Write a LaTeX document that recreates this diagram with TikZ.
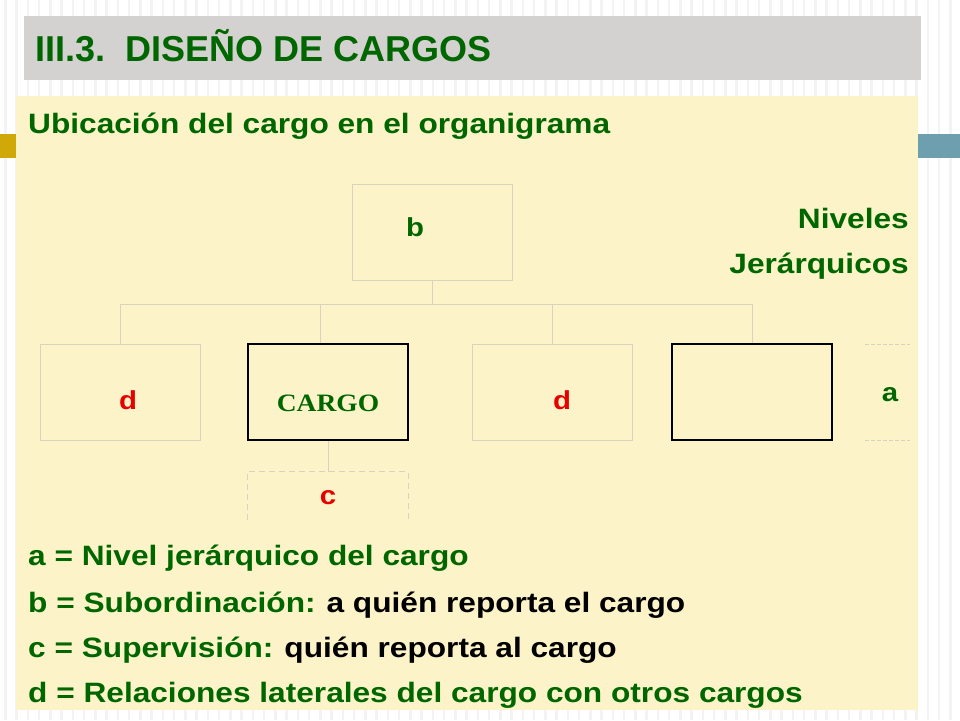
\documentclass[tikz,border=0pt]{standalone}
\usepackage{fontspec}
\setmainfont{Liberation Sans}
\newfontfamily\bodyf[FakeStretch=1.13]{Liberation Sans}
\newfontfamily\titlef{Liberation Sans}
\newfontfamily\serifb[FakeStretch=1.1]{Liberation Serif}
\definecolor{dgreen}{RGB}{0,102,0}
\definecolor{lred}{RGB}{230,0,0}
\definecolor{panel}{RGB}{252,243,200}
\definecolor{tbar}{RGB}{212,210,208}
\definecolor{gold}{RGB}{208,168,8}
\definecolor{steel}{RGB}{110,159,175}
\definecolor{stripe}{RGB}{243,243,243}
\definecolor{lbord}{RGB}{217,210,192}
\tikzset{
  x=1pt, y=-1pt,
  lightbox/.style={draw=lbord, line width=1pt, minimum width=160pt, minimum height=96pt, inner sep=0pt},
  darkbox/.style={draw=black, line width=1.2pt, minimum width=160pt, minimum height=96pt, inner sep=0pt},
  conn/.style={draw=lbord, line width=1pt},
  dashconn/.style={draw=lbord, line width=1pt, dash pattern=on 6pt off 4pt},
  bodytxt/.style={font=\bodyf\bfseries\fontsize{28}{30}\selectfont, text=dgreen, inner sep=0pt},
  lbl/.style={font=\bodyf\bfseries\fontsize{26}{28}\selectfont, inner sep=0pt, anchor=base},
}
\begin{document}
\begin{tikzpicture}
\useasboundingbox (0,0) rectangle (960,720);
% background
\fill[white] (0,0) rectangle (960,720);
\foreach \i in {0,...,85} {
  \fill[stripe] ({4+11.25*\i},0) rectangle ({6.5+11.25*\i},720);
}
% side bars
\fill[gold] (0,134) rectangle (16,158);
\fill[steel] (918,134) rectangle (960,158);
% title bar
\fill[tbar] (24,16) rectangle (921,80);
\node[anchor=base west, inner sep=0pt, text=dgreen, font=\titlef\bfseries\fontsize{36}{40}\selectfont] (title) at (35,61) {III.3.\ \ DISEÑO DE CARGOS};
% panel
\fill[panel] (16,96) rectangle (918,710);
\node[bodytxt, anchor=base west] (ubic) at (28,133) {Ubicación del cargo en el organigrama};
\node[bodytxt, anchor=base east] (niv) at (909,228) {Niveles};
\node[bodytxt, anchor=base east] (jer) at (909,273) {Jerárquicos};
% org chart
\node[lightbox] (b) at (432,232) {};
\node[lbl, text=dgreen] (blbl) at (415,236) {b};
\coordinate (bus) at (432,304);
\node[lightbox] (d1) at (120,392) {};
\node[darkbox] (cargo) at (328,392) {};
\node[lightbox] (d2) at (552,392) {};
\node[darkbox] (n4) at (752,392) {};
\node[lbl, text=lred] (d1lbl) at (128,409) {d};
\node[lbl, text=lred] (d2lbl) at (562,409) {d};
\node[anchor=base, inner sep=0pt, text=dgreen, font=\serifb\bfseries\fontsize{25}{27}\selectfont] (cargolbl) at (328,411) {CARGO};
\draw[conn] (b.south) -- (bus);
\draw[conn] (d1.north) |- (bus);
\draw[conn] ([xshift=-8pt]cargo.north) |- (bus);
\draw[conn] (d2.north) |- (bus);
\draw[conn] (n4.north) |- (bus);
% supervision box
\node[minimum width=160pt, minimum height=48pt, inner sep=0pt] (cbox) at (328,496) {};
\draw[conn] (cargo.south) -- (cbox.north);
\draw[dashconn] (cbox.south west) -- (cbox.north west) -- (cbox.north east) -- (cbox.south east);
\node[lbl, text=lred] (clbl) at (328,504) {c};
% level marker
\coordinate (a1) at (865,344);
\coordinate (a2) at (910,344);
\coordinate (a3) at (865,440);
\coordinate (a4) at (910,440);
\draw[dashconn, dash pattern=on 4pt off 2pt, line width=0.8pt] (a1) -- (a2);
\draw[dashconn, dash pattern=on 4pt off 2pt, line width=0.8pt] (a3) -- (a4);
\node[lbl, text=dgreen] (albl) at (890,401) {a};
% legend
\node[bodytxt, anchor=base west] (la) at (28,565) {a = Nivel jerárquico del cargo};
\node[bodytxt, anchor=base west] (lb) at (28,612) {b = Subordinación:\hspace{11pt}\textcolor{black}{a quién reporta el cargo}};
\node[bodytxt, anchor=base west] (lc) at (28,657) {c = Supervisión:\hspace{11pt}\textcolor{black}{quién reporta al cargo}};
\node[bodytxt, anchor=base west] (ld) at (28,702) {d = Relaciones laterales del cargo con otros cargos};
\end{tikzpicture}
\end{document}
